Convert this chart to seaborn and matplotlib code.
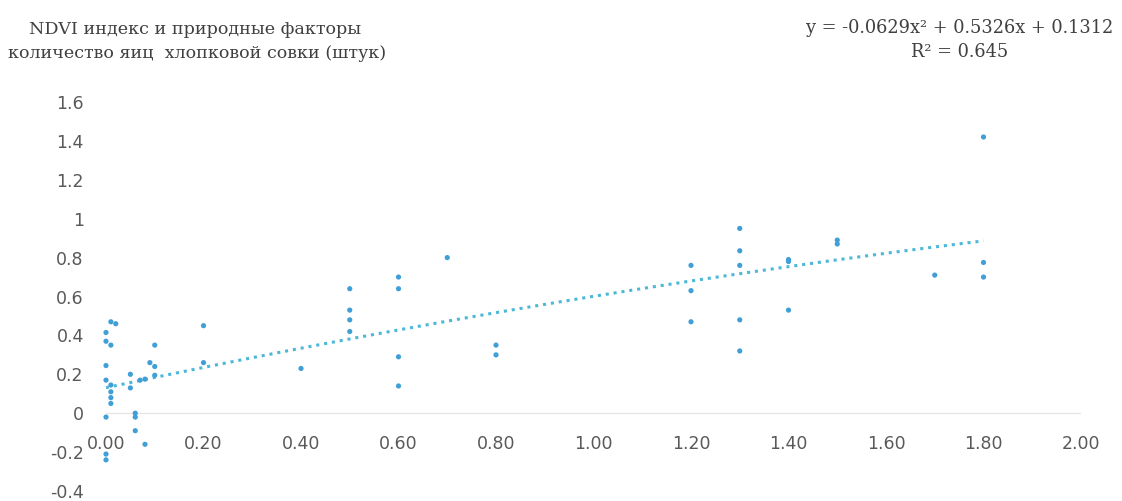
import numpy as np
import pandas as pd
import matplotlib
matplotlib.use("Agg")
import matplotlib.pyplot as plt
import seaborn as sns
from matplotlib.ticker import FuncFormatter, MultipleLocator

# --- data ---
eggs = [0.01, 0.02, 0.00, 0.00, 0.01, 0.00, 0.00, 0.01, 0.01, 0.01, 0.01, 0.00, 0.00, 0.00,
        0.05, 0.05, 0.07, 0.06, 0.06, 0.06, 0.08, 0.10, 0.09, 0.10, 0.10, 0.08,
        0.20, 0.20, 0.40, 0.50, 0.50, 0.50, 0.50, 0.60, 0.60, 0.60, 0.60, 0.70,
        0.80, 0.80, 1.20, 1.20, 1.20, 1.30, 1.30, 1.30, 1.30, 1.30, 1.40, 1.40,
        1.40, 1.50, 1.50, 1.70, 1.80, 1.80, 1.80]
ndvi = [0.47, 0.46, 0.415, 0.37, 0.35, 0.245, 0.17, 0.145, 0.11, 0.08, 0.05, -0.02, -0.21, -0.24,
        0.20, 0.13, 0.17, 0.00, -0.02, -0.09, -0.16, 0.35, 0.26, 0.24, 0.195, 0.175,
        0.45, 0.26, 0.23, 0.64, 0.53, 0.48, 0.42, 0.70, 0.64, 0.29, 0.14, 0.80,
        0.35, 0.30, 0.76, 0.63, 0.47, 0.95, 0.835, 0.76, 0.48, 0.32, 0.79, 0.78,
        0.53, 0.89, 0.87, 0.71, 1.42, 0.775, 0.70]

# trendline coefficients shown on the chart (a2, a1, a0)
trend_coef = [-0.0629, 0.5326, 0.1312]
r_squared = 0.645

title_lines = ["NDVI индекс и природные факторы", "количество яиц  хлопковой совки (штук)"]

df = pd.DataFrame({"eggs": eggs, "ndvi": ndvi})
trend_x = np.linspace(min(eggs), max(eggs), 200)
trend = pd.DataFrame({"x": trend_x, "y": np.polyval(trend_coef, trend_x)})

sns.set_theme(style="white")
plt.rcParams["axes.unicode_minus"] = False
plt.rcParams["font.family"] = ["DejaVu Sans"]

fig = plt.figure(figsize=(11.22, 5.01), dpi=100)
W, H = 1122, 501
left, right, top, bottom = 106, 1081, 102, 491
ax = fig.add_axes([left / W, 1 - bottom / H, (right - left) / W, (bottom - top) / H])

ax.axhline(0, color="#e6e6e6", lw=1, zorder=0)

sns.lineplot(data=trend, x="x", y="y", ax=ax, color="#4cb8d8", lw=2.2,
             linestyle=(0, (1, 1.6)), zorder=2)
sns.scatterplot(data=df, x="eggs", y="ndvi", ax=ax, color="#3f9fd6", s=14,
                edgecolor="none", zorder=3, clip_on=False)

ax.set_xlim(0, 2.0)
ax.set_ylim(-0.4, 1.6)
ax.xaxis.set_major_locator(MultipleLocator(0.2))
ax.yaxis.set_major_locator(MultipleLocator(0.2))
ax.xaxis.set_major_formatter(FuncFormatter(lambda v, p: f"{v:.2f}"))
ax.yaxis.set_major_formatter(FuncFormatter(lambda v, p: f"{round(v, 1):g}"))
ax.spines["bottom"].set_position(("data", 0))
for s in ax.spines.values():
    s.set_visible(False)
ax.tick_params(axis="x", length=0, pad=16, labelsize=12.5, labelcolor="#595959")
ax.tick_params(axis="y", length=0, pad=16, labelsize=12.5, labelcolor="#595959")
ax.set_xlabel("")
ax.set_ylabel("")

serif = ["DejaVu Serif"]
fig.text(195 / W, 1 - 29 / H, title_lines[0], ha="center", va="center",
         fontsize=12.6, family=serif, color="#404040")
fig.text(197 / W, 1 - 53 / H, title_lines[1], ha="center", va="center",
         fontsize=12.6, family=serif, color="#404040")

a2, a1, a0 = trend_coef
fig.text(960 / W, 1 - 28 / H, f"y = {a2:.4f}x² + {a1:.4f}x + {a0:.4f}", ha="center",
         va="center", fontsize=12.8, family=serif, color="#404040")
fig.text(960 / W, 1 - 52 / H, f"R² = {r_squared:.3f}", ha="center", va="center",
         fontsize=12.8, family=serif, color="#404040")

fig.savefig("out.png", dpi=100)
